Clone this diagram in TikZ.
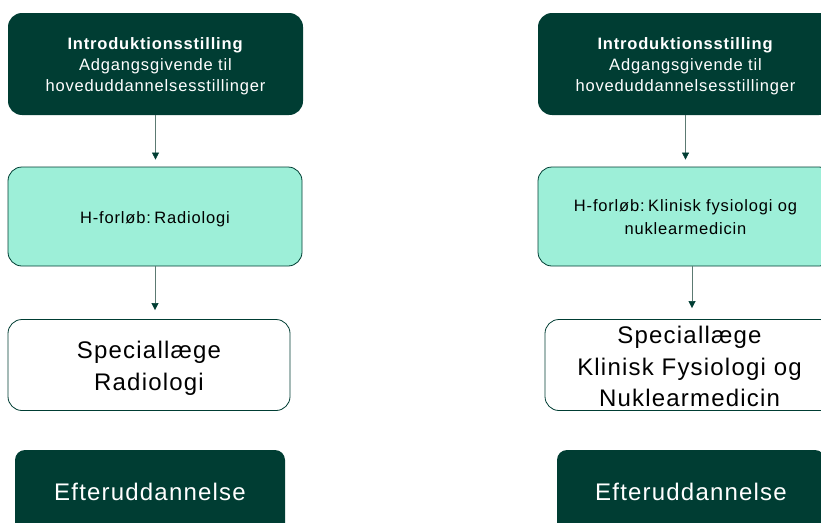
\documentclass[tikz,border=0pt]{standalone}
\usepackage{fontspec}
\setmainfont{Liberation Sans}[LetterSpace=5]
\usetikzlibrary{arrows.meta}
\definecolor{darkgreen}{HTML}{003D33}
\definecolor{mintfill}{HTML}{9DEFD8}
\definecolor{linkgrey}{HTML}{5C7A72}
\newcommand{\topstrut}[1]{\rule{0pt}{#1}}

\begin{document}
\begin{tikzpicture}[
    x=1pt, y=-1pt,
    introbox/.style={
      rectangle,
      rounded corners=14pt,
      fill=darkgreen,
      text=white,
      minimum width=295pt,
      minimum height=102pt,
      inner sep=0pt,
      align=center,
      font=\fontsize{16.5}{21}\selectfont
    },
    forloeb/.style={
      rectangle,
      rounded corners=14pt,
      draw=darkgreen,
      fill=mintfill,
      line width=0.8pt,
      minimum height=99pt,
      inner sep=0pt,
      align=center,
      font=\fontsize{16.5}{23}\selectfont
    },
    speciale/.style={
      rectangle,
      rounded corners=14pt,
      draw=darkgreen,
      fill=white,
      line width=0.8pt,
      minimum height=91pt,
      inner sep=0pt,
      align=center,
      font=\fontsize{24}{31.5}\selectfont
    },
    efterbox/.style={
      rectangle,
      rounded corners=10pt,
      fill=darkgreen,
      text=white,
      minimum height=84pt,
      inner sep=0pt,
      font=\fontsize{24}{31}\selectfont
    },
    link/.style={
      -{Triangle[length=7pt,width=7pt,color=darkgreen]},
      draw=linkgrey,
      line width=0.6pt
    }
  ]
    \useasboundingbox (0,0) rectangle (821,522);
    \clip (0,0) rectangle (821,522);

    % venstre kolonne
    \node[introbox] (introL) at (155.5,64) {\topstrut{17pt}\textbf{Introduktionsstilling}\\Adgangsgivende til\\hoveduddannelsesstillinger};
    \node[forloeb, minimum width=294pt] (hL) at (155,216.5) {\topstrut{18pt}H-forløb:\hspace{3.5pt}Radiologi};
    \node[speciale, minimum width=282pt] (specL) at (149,365) {\topstrut{24pt}Speciallæge\\Radiologi};
    \node[efterbox, minimum width=270pt] (eftL) at (150,492) {Efteruddannelse};

    % højre kolonne
    \node[introbox] (introR) at (685.5,64) {\topstrut{17pt}\textbf{Introduktionsstilling}\\Adgangsgivende til\\hoveduddannelsesstillinger};
    \node[forloeb, minimum width=295pt] (hR) at (685.5,216.5) {\topstrut{14pt}H-forløb:\hspace{3.5pt}Klinisk fysiologi og\\nuklearmedicin};
    \node[speciale, minimum width=289pt] (specR) at (689.5,365) {\topstrut{21pt}Speciallæge\\Klinisk Fysiologi og\\Nuklearmedicin};
    \node[efterbox, minimum width=268pt] (eftR) at (691,492) {Efteruddannelse};

    \draw[link, shorten >=7pt] (introL.south) -- (introL.south |- hL.north);
    \draw[link, shorten >=9pt] (hL.south) -- (hL.south |- specL.north);
    \draw[link, shorten >=7pt] (introR.south) -- (introR.south |- hR.north);
    \draw[link, shorten >=11pt] ([xshift=6.5pt]hR.south) -- ([xshift=6.5pt]hR.south |- specR.north);
  \end{tikzpicture}
\end{document}
